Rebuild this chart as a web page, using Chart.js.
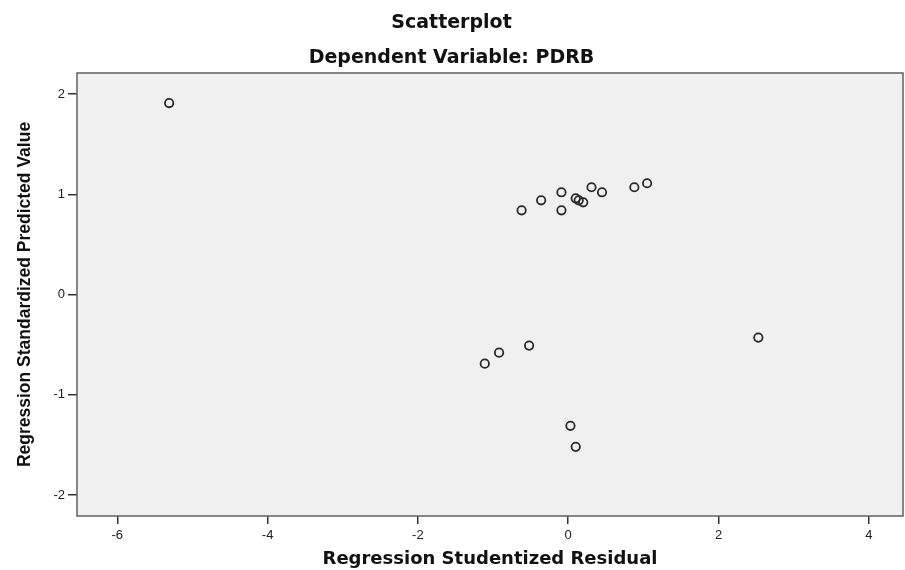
<!DOCTYPE html>
<html>
<head>
<meta charset="utf-8">
<title>Scatterplot</title>
<script src="https://cdn.jsdelivr.net/npm/chart.js@4.4.1/dist/chart.umd.min.js"></script>
<style>
  html, body { margin: 0; padding: 0; background: #fff; }
  #wrap { width: 905px; height: 570px; }
</style>
</head>
<body>
<div id="wrap"><canvas id="scatter" width="905" height="570"></canvas></div>
<script>
'use strict';
// values
const residuals = [-5.31, -0.62, -0.36, -0.09, -0.09, 0.10, 0.14, 0.20, 0.31, 0.45, 0.88, 1.05, -1.11, -0.92, -0.52, 0.03, 0.10, 2.53];
const predicted = [1.91, 0.84, 0.94, 1.02, 0.84, 0.96, 0.94, 0.92, 1.07, 1.02, 1.07, 1.11, -0.69, -0.58, -0.51, -1.31, -1.52, -0.43];
const xTicks = [-6, -4, -2, 0, 2, 4];
const yTicks = [-2, -1, 0, 1, 2];

const points = residuals.map((x, i) => ({ x: x, y: predicted[i] }));

// grey plot background + frame, like the SPSS output
const plotFrame = {
    id: 'plotFrame',
    beforeDatasetsDraw(chart) {
        const a = chart.chartArea, ctx = chart.ctx;
        ctx.save();
        ctx.fillStyle = '#f0f0f0';
        ctx.fillRect(a.left, a.top, a.right - a.left, a.bottom - a.top);
        ctx.restore();
    },
    afterDraw(chart) {
        const a = chart.chartArea, ctx = chart.ctx;
        ctx.save();
        ctx.strokeStyle = '#606060';
        ctx.lineWidth = 1.5;
        ctx.strokeRect(a.left, a.top, a.right - a.left, a.bottom - a.top);
        ctx.restore();
    }
};

const tickFont = { family: '"Liberation Sans", Arial, sans-serif', size: 13 };

new Chart(document.getElementById('scatter'), {
    type: 'scatter',
    data: {
        datasets: [{
            data: points,
            pointRadius: 4.2,
            pointHoverRadius: 4.2,
            pointBorderWidth: 1.8,
            borderColor: '#2a2a2a',
            backgroundColor: 'rgba(0,0,0,0)'
        }]
    },
    plugins: [plotFrame],
    options: {
        responsive: false,
        animation: false,
        events: [],
        layout: { autoPadding: false, padding: { left: 0, right: 2, top: 0, bottom: 0 } },
        plugins: {
            legend: { display: false },
            tooltip: { enabled: false },
            title: {
                display: true,
                text: 'Scatterplot',
                color: '#111',
                font: { family: '"DejaVu Sans", sans-serif', size: 19, weight: 'bold' },
                padding: { top: 12, bottom: 6 }
            },
            subtitle: {
                display: true,
                text: 'Dependent Variable: PDRB',
                color: '#111',
                font: { family: '"DejaVu Sans", sans-serif', size: 19, weight: 'bold' },
                padding: { top: 5.8, bottom: 3.6 }
            }
        },
        scales: {
            x: {
                type: 'linear',
                min: -6.536,
                max: 4.455,
                afterBuildTicks: axis => { axis.ticks = xTicks.map(v => ({ value: v })); },
                afterFit: axis => { axis.height = 54; axis.paddingLeft = 0; axis.paddingRight = 0; },
                border: { display: false },
                grid: { drawOnChartArea: false, drawTicks: true, tickLength: 8, color: '#333', lineWidth: 1.5 },
                ticks: { color: '#222', font: tickFont, padding: 4 },
                title: {
                    display: true,
                    text: 'Regression Studentized Residual',
                    color: '#111',
                    font: { family: '"DejaVu Sans", sans-serif', size: 18, weight: 'bold' },
                    padding: { top: 4, bottom: 0 }
                }
            },
            y: {
                type: 'linear',
                min: -2.21,
                max: 2.21,
                afterBuildTicks: axis => { axis.ticks = yTicks.map(v => ({ value: v })); },
                afterFit: axis => { axis.width = 77; },
                border: { display: false },
                grid: { drawOnChartArea: false, drawTicks: true, tickLength: 9, color: '#333', lineWidth: 1.5 },
                ticks: { color: '#222', font: tickFont, padding: 3 },
                title: {
                    display: true,
                    text: 'Regression Standardized Predicted Value',
                    color: '#111',
                    font: { family: '"Liberation Sans", Arial, sans-serif', size: 17.5, weight: 'bold' },
                    padding: { top: 14.5, bottom: 4 }
                }
            }
        }
    }
});
</script>
</body>
</html>
